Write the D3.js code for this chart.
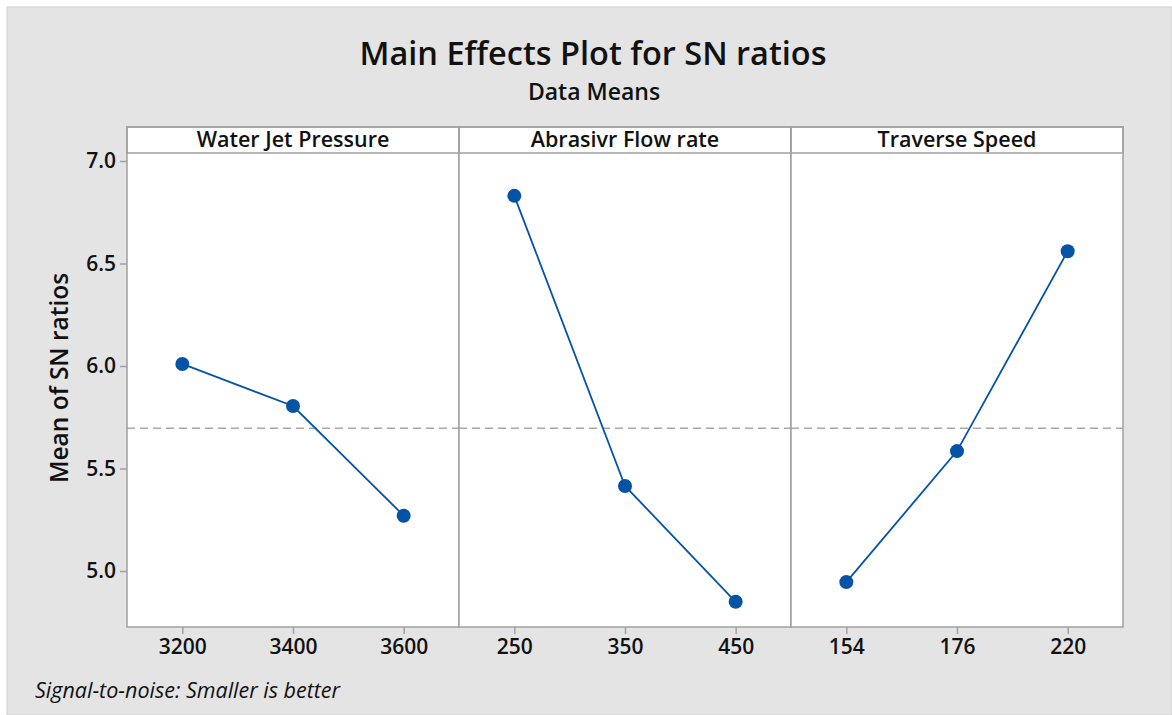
<!DOCTYPE html>
<html lang="en">
<head>
<meta charset="utf-8">
<title>Main Effects Plot for SN ratios</title>
<script src="https://cdn.jsdelivr.net/npm/d3@7"></script>
<style>
  html, body { margin: 0; padding: 0; background: #fff; }
  svg { display: block; font-family: "Open Sans", "Noto Sans", sans-serif; }
</style>
</head>
<body>
<div id="chart"></div>
<script>
// factors (one panel each)
var factors = ["Water Jet Pressure", "Abrasivr Flow rate", "Traverse Speed"];
var levels = [
  ["3200", "3400", "3600"],
  ["250", "350", "450"],
  ["154", "176", "220"]
];
var means = [
  [6.01, 5.805, 5.27],
  [6.83, 5.415, 4.85],
  [4.946, 5.585, 6.56]
];
var yTicks = [5.0, 5.5, 6.0, 6.5, 7.0];

var width = 1172, height = 715;
var plot = { left: 127, right: 1123, top: 127, strip: 26, bottom: 627 };
var panelW = (plot.right - plot.left) / factors.length;

var grandMean = d3.mean(d3.merge(means));

var svg = d3.select("#chart").append("svg")
    .attr("width", width)
    .attr("height", height);

// background with thin white edge at top/left
svg.append("rect").attr("width", width).attr("height", height).attr("fill", "#fff");
svg.append("rect")
    .attr("x", 7).attr("y", 7)
    .attr("width", width - 7).attr("height", height - 7)
    .attr("fill", "#e4e4e4")
    .attr("stroke", "#d0d0d0");

var y = d3.scaleLinear()
    .domain([4.727, 7.039])
    .range([plot.bottom, plot.top + plot.strip]);

// titles
svg.append("text")
    .attr("x", 593).attr("y", 65)
    .attr("text-anchor", "middle")
    .attr("font-size", 32.5).attr("font-weight", 600)
    .attr("fill", "#111")
    .text("Main Effects Plot for SN ratios");
svg.append("text")
    .attr("x", 594).attr("y", 100)
    .attr("text-anchor", "middle")
    .attr("font-size", 23).attr("font-weight", 600)
    .attr("fill", "#111")
    .text("Data Means");

// y label
svg.append("text")
    .attr("transform", "translate(68,378) rotate(-90)")
    .attr("text-anchor", "middle")
    .attr("font-size", 24.5).attr("font-weight", 600)
    .attr("fill", "#111")
    .text("Mean of SN ratios");

// footnote
svg.append("text")
    .attr("x", 35).attr("y", 698)
    .attr("font-size", 21.5).attr("font-style", "italic")
    .attr("fill", "#111")
    .text("Signal-to-noise: Smaller is better");

// panels
factors.forEach(function(f, i) {
  var x0 = plot.left + i * panelW;
  var g = svg.append("g");

  g.append("rect")
      .attr("x", x0).attr("y", plot.top)
      .attr("width", panelW).attr("height", plot.bottom - plot.top)
      .attr("fill", "#fff");

  var x = d3.scalePoint()
      .domain(levels[i])
      .range([x0, x0 + panelW])
      .padding(0.5);

  // reference line (grand mean)
  g.append("line")
      .attr("x1", x0).attr("x2", x0 + panelW)
      .attr("y1", y(grandMean)).attr("y2", y(grandMean))
      .attr("stroke", "#a8a8a8").attr("stroke-width", 1.5)
      .attr("stroke-dasharray", "8,5");

  var pts = levels[i].map(function(l, j) { return [l, means[i][j]]; });

  g.append("path")
      .datum(pts)
      .attr("fill", "none")
      .attr("stroke", "#0553a6")
      .attr("stroke-width", 1.8)
      .attr("d", d3.line().x(function(d) { return x(d[0]); }).y(function(d) { return y(d[1]); }));

  g.selectAll("circle").data(pts).enter().append("circle")
      .attr("cx", function(d) { return x(d[0]); })
      .attr("cy", function(d) { return y(d[1]); })
      .attr("r", 7)
      .attr("fill", "#0553a6");

  // x axis
  var xa = g.append("g")
      .attr("transform", "translate(0," + plot.bottom + ")")
      .call(d3.axisBottom(x).tickSize(7).tickPadding(5));
  xa.select(".domain").remove();
  xa.selectAll(".tick line").attr("stroke", "#a0a0a0").attr("stroke-width", 1.5);
  xa.selectAll(".tick text")
      .attr("font-size", 21).attr("font-weight", 600)
      .attr("font-family", "'Open Sans', sans-serif")
      .attr("fill", "#111");

  // strip
  g.append("rect")
      .attr("x", x0).attr("y", plot.top)
      .attr("width", panelW).attr("height", plot.strip)
      .attr("fill", "#fff")
      .attr("stroke", "#a0a0a0").attr("stroke-width", 1.5);
  g.append("text")
      .attr("x", x0 + panelW / 2).attr("y", plot.top + 20)
      .attr("text-anchor", "middle")
      .attr("font-size", 21.5).attr("font-weight", 600)
      .attr("fill", "#111")
      .text(f);

  // panel frame
  g.append("rect")
      .attr("x", x0).attr("y", plot.top)
      .attr("width", panelW).attr("height", plot.bottom - plot.top)
      .attr("fill", "none")
      .attr("stroke", "#a0a0a0").attr("stroke-width", 1.5);
});

// y axis
var ya = svg.append("g")
    .attr("transform", "translate(" + plot.left + ",0)")
    .call(d3.axisLeft(y).tickValues(yTicks).tickFormat(d3.format(".1f")).tickSize(7).tickPadding(4));
ya.select(".domain").remove();
ya.selectAll(".tick line").attr("stroke", "#a0a0a0").attr("stroke-width", 1.5);
ya.selectAll(".tick text")
    .attr("font-size", 21).attr("font-weight", 600)
    .attr("font-family", "'Open Sans', sans-serif")
    .attr("fill", "#111");
</script>
</body>
</html>
